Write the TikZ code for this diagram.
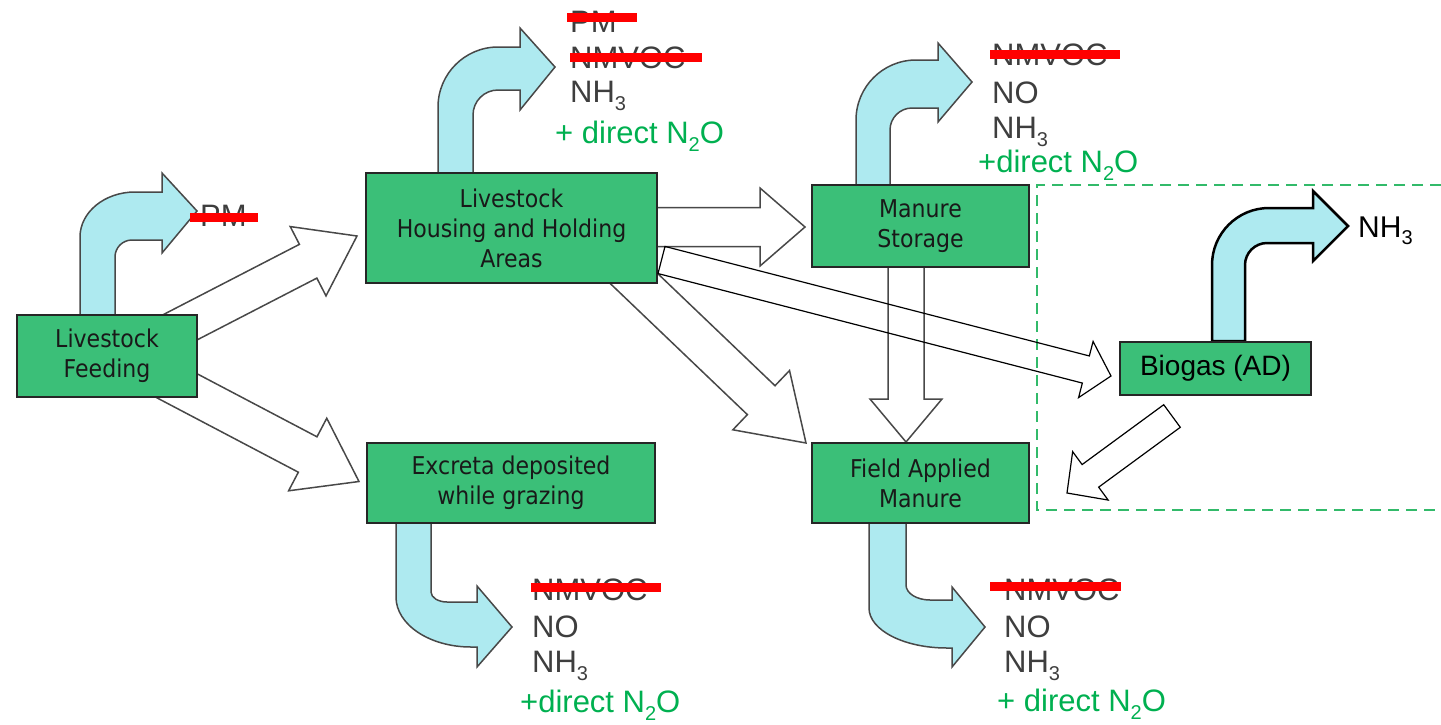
\documentclass[tikz,border=0pt]{standalone}
\usepackage{fontspec}
\setmainfont{Liberation Sans}
\newfontfamily\boxfont{DejaVu Sans}[FakeStretch=0.9]
\usetikzlibrary{calc}
\definecolor{boxgreen}{RGB}{59,191,120}
\definecolor{lightblue}{RGB}{174,234,240}
\definecolor{outgray}{RGB}{72,72,72}
\definecolor{textgray}{RGB}{62,62,62}
\definecolor{emitgreen}{RGB}{0,176,80}
\definecolor{dashgreen}{RGB}{50,186,106}
\newcommand\lowsub[1]{\raisebox{-0.26em}{\fontsize{20}{20}\selectfont #1}}
% #1 style, #2 start, #3 tip, #4 half shaft, #5 half head, #6 head length
\newcommand\blockarrow[6]{%
  \draw[#1] ($(#2)!#4!90:(#3)$) -- ($(#3)!#6!(#2)!#4!-90:(#2)$)
    -- ($(#3)!#6!(#2)!#5!-90:(#2)$) -- (#3)
    -- ($(#3)!#6!(#2)!#5!90:(#2)$) -- ($(#3)!#6!(#2)!#4!90:(#2)$)
    -- ($(#2)!#4!-90:(#3)$) -- cycle;}
\begin{document}
\begin{tikzpicture}[x=1pt,y=-1pt,
  box/.style={draw=black!85, fill=boxgreen, line width=1.5pt, inner sep=0pt, outer sep=0pt,
    align=center, text=black!90, font=\boxfont\fontsize{24.5}{30}\selectfont},
  biobox/.style={draw=black!85, fill=boxgreen, line width=1.2pt, inner sep=0pt, outer sep=0pt,
    text=black, font=\fontsize{28}{30}\selectfont},
  emit/.style={inner sep=0pt, anchor=base west, text=textgray, font=\fontsize{31}{31}\selectfont},
  emitg/.style={inner sep=0pt, anchor=base west, text=emitgreen, font=\fontsize{31}{31}\selectfont},
  strike/.style={draw=red, line width=9pt},
  whitearrow/.style={draw=outgray, fill=white, line width=1.5pt, line join=miter},
  thinarrow/.style={draw=black, line width=1.2pt, line join=miter},
  bluearrow/.style={draw=outgray, fill=lightblue, line width=1.5pt, line join=miter},
  bioarrow/.style={draw=black, fill=lightblue, line width=2.5pt, line join=miter},
  dashbox/.style={draw=dashgreen, line width=2pt, dash pattern=on 11pt off 7pt}
]
\useasboundingbox (0,0) rectangle (1441,724);

% named end points of the block arrows
\coordinate (fhA) at (171,332);   \coordinate (fhB) at (357,236);
\coordinate (feA) at (166,380);   \coordinate (feB) at (359,481.5);
\coordinate (hsA) at (650,227);   \coordinate (hsB) at (805,227);
\coordinate (hfA) at (624,269);   \coordinate (hfB) at (806,443);
\coordinate (sfA) at (906,260);   \coordinate (sfB) at (906,442);
\coordinate (hbA) at (661.5,260); \coordinate (hbB) at (1111,376);
\coordinate (bfA) at (1172,416);  \coordinate (bfB) at (1067,493);

% white block arrows
\blockarrow{whitearrow}{fhA}{fhB}{19pt}{39pt}{55pt}
\blockarrow{whitearrow}{feA}{feB}{20pt}{41pt}{58pt}
\blockarrow{whitearrow}{hsA}{hsB}{19.5pt}{39pt}{45pt}
\blockarrow{whitearrow}{hfA}{hfB}{20pt}{41pt}{62pt}
\blockarrow{whitearrow}{sfA}{sfB}{18pt}{36pt}{43pt}

% dashed AD boundary
\draw[dashbox] (1441,185) -- (1037,185) -- (1037,510) -- (1441,510);

% blue bent arrows
\draw[bluearrow] (80,315) -- (80,237) .. controls (80,212.2) and (104.6,192) .. (135,192)
  -- (162,192) -- (162,173) -- (197,211) -- (162,253) -- (162,240) -- (132,240)
  .. controls (122.6,240) and (115,247.6) .. (115,257) -- (115,315) -- cycle;
\draw[bluearrow] (438,173) -- (438,107) .. controls (438,73.9) and (464.9,47) .. (498,47)
  -- (520,47) -- (520,28) -- (555,67) -- (520,110) -- (520,90) -- (498,90)
  .. controls (484.2,90) and (473,101.2) .. (473,115) -- (473,173) -- cycle;
\draw[bluearrow] (856,185) -- (856,120) .. controls (856,86.9) and (882.9,60) .. (916,60)
  -- (938,60) -- (938,43) -- (972,82) -- (938,122) -- (938,108) -- (912,108)
  .. controls (899.9,108) and (890,117.9) .. (890,130) -- (890,185) -- cycle;
\draw[bluearrow] (396,523) -- (396,597) .. controls (396,624.6) and (429.6,647) .. (471,647)
  -- (477,647) -- (477,667) -- (512,627) -- (477,586) -- (477,602) -- (447,602)
  .. controls (438.2,602) and (431,597.5) .. (431,592) -- (431,523) -- cycle;
\draw[bluearrow] (869,523) -- (869,608) .. controls (869,630.1) and (903.9,648) .. (947,648)
  -- (952,648) -- (952,667) -- (985,627) -- (952,587) -- (952,600) -- (930,600)
  .. controls (916.8,600) and (906,593.3) .. (906,585) -- (906,523) -- cycle;
\draw[bioarrow] (1212,341) -- (1212,265) .. controls (1212,233.5) and (1237.5,208) .. (1269,208)
  -- (1313,208) -- (1313,191) -- (1348,226) -- (1313,261) -- (1313,243) -- (1267,243)
  .. controls (1254.9,243) and (1245,252.9) .. (1245,265) -- (1245,341) -- cycle;

% boxes
\node[box, minimum width=180pt, minimum height=82pt] (feed) at (107,356) {Livestock\\Feeding};
\node[box, minimum width=291pt, minimum height=110pt] (house) at (511.5,228) {Livestock\\Housing and Holding\\Areas};
\node[box, minimum width=217pt, minimum height=82pt] (store) at (920.5,226) {Manure\\Storage};
\node[box, minimum width=288pt, minimum height=80pt] (excreta) at (511,483) {Excreta deposited\\while grazing};
\node[box, minimum width=217pt, minimum height=80pt] (field) at (920.5,483) {Field Applied\\Manure};
\node[biobox, minimum width=191pt, minimum height=53pt] (biogas) at (1215.5,368.5) {Biogas (AD)};

% thin black block arrows
\blockarrow{thinarrow}{hbA}{hbB}{14pt}{29pt}{26pt}
\blockarrow{thinarrow, fill=white}{bfA}{bfB}{14pt}{30pt}{29pt}

% emission lists
\node[emit] (fpm) at (200,226) {PM};
\draw[strike] (190,217) -- (258,217);

\node[emit] (hpm) at (570,32) {PM};
\node[emit] (hvoc) at (570,68) {NMVOC};
\node[emit] (hnh3) at (570,102) {NH\lowsub{3}};
\node[emitg] (hn2o) at (555,143) {+ direct N\lowsub{2}O};
\draw[strike] (567,17) -- (637,17);
\draw[strike] (570,57) -- (702,57);

\node[emit] (svoc) at (992,65) {NMVOC};
\node[emit] (sno) at (992,103) {NO};
\node[emit] (snh3) at (992,138) {NH\lowsub{3}};
\node[emitg] (sn2o) at (978,172) {+direct N\lowsub{2}O};
\draw[strike] (990,54) -- (1120,54);

\node[emit] (evoc) at (532,600) {NMVOC};
\node[emit] (eno) at (532,637) {NO};
\node[emit] (enh3) at (532,672) {NH\lowsub{3}};
\node[emitg] (en2o) at (520,712) {+direct N\lowsub{2}O};
\draw[strike] (531,587) -- (661,587);

\node[emit] (avoc) at (1004,600) {NMVOC};
\node[emit] (ano) at (1004,637) {NO};
\node[emit] (anh3) at (1004,672) {NH\lowsub{3}};
\node[emitg] (an2o) at (997,711) {+ direct N\lowsub{2}O};
\draw[strike] (990,586) -- (1121,586);

\node[inner sep=0pt, anchor=base west, text=black, font=\fontsize{30}{30}\selectfont] (bnh3) at (1358,237) {NH\lowsub{3}};
\end{tikzpicture}
\end{document}
